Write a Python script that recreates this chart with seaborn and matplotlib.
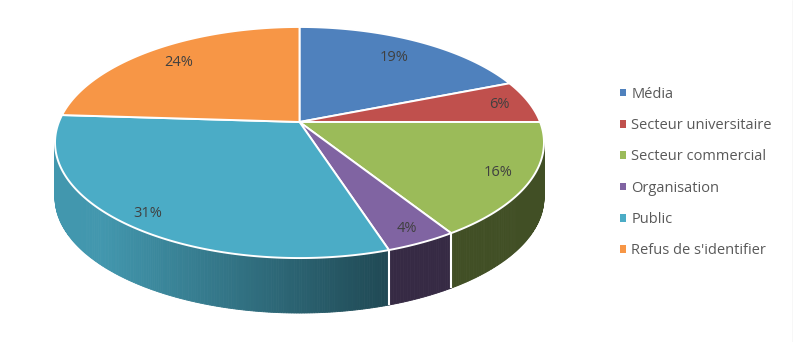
import numpy as np
import matplotlib
matplotlib.use("Agg")
import matplotlib.pyplot as plt
import seaborn as sns
from matplotlib.patches import Polygon, Patch
from matplotlib.colors import to_rgb

# ---- data ----
categories = ["Média", "Secteur universitaire", "Secteur commercial",
              "Organisation", "Public", "Refus de s'identifier"]
shares = [19, 6, 16, 4, 31, 24]
colors = ["#4F81BD", "#C0504D", "#9BBB59", "#8064A2", "#4BACC6", "#F79646"]

# ---- style ----
sns.set_theme(style="white")
plt.rcParams["font.family"] = ["Open Sans", "DejaVu Sans"]

label_r = [0.78, 0.87, 0.87, 0.90, 0.90, 0.81]   # label radius (fraction of pie radius)

W, H = 793, 342
fig = plt.figure(figsize=(W / 100, H / 100), dpi=100)
ax = fig.add_axes([0, 0, 1, 1])
ax.set_xlim(0, W)
ax.set_ylim(H, 0)
ax.axis("off")

# perspective pie geometry (pixel space)
CX, CY, A, B, K, DEPTH = 299.5, 122.0, 240.6, 111.9, 0.1775, 55.0


def proj(phi, r=1.0, drop=0.0):
    X = r * np.sin(phi)
    Z = r * np.cos(phi)
    s = 1.0 / (1.0 + K * Z)
    return CX + A * X * s, CY - B * Z * s + drop


def shade(x):
    t = np.clip((390.0 - x) / (390.0 - 100.0), 0, 1)
    return 0.42 + (0.88 - 0.42) * t


total = float(sum(shares))
bounds = np.concatenate([[0.0], np.cumsum(shares)]) / total * 2 * np.pi
phi_a = np.arccos(-K)
phi_b = 2 * np.pi - phi_a

# ---- side walls ----
for i, c in enumerate(colors):
    s, e = max(bounds[i], phi_a), min(bounds[i + 1], phi_b)
    if e <= s:
        continue
    n = max(2, int(np.degrees(e - s) / 0.5))
    ts = np.linspace(s, e, n + 1)
    base = np.array(to_rgb(c))
    for t0, t1 in zip(ts[:-1], ts[1:]):
        x0, y0 = proj(t0)
        x1, y1 = proj(t1)
        col = np.clip(base * shade(0.5 * (x0 + x1)), 0, 1)
        ax.fill([x0, x1, x1, x0], [y0, y1, y1 + DEPTH, y0 + DEPTH],
                color=col, lw=0.6, ec=col, zorder=1)

for b in bounds[1:-1]:
    if phi_a < b < phi_b:
        x0, y0 = proj(b)
        ax.plot([x0, x0], [y0, y0 + DEPTH], color="white", lw=1.5,
                zorder=2, solid_capstyle="butt")

# ---- top face ----
for i, c in enumerate(colors):
    ts = np.linspace(bounds[i], bounds[i + 1], 200)
    xs, ys = proj(ts)
    pts = np.column_stack([np.r_[CX, xs], np.r_[CY, ys]])
    ax.add_patch(Polygon(pts, closed=True, facecolor=c, edgecolor="white",
                         lw=1.4, joinstyle="round", zorder=3))

# ---- data labels ----
for i, v in enumerate(shares):
    mid = 0.5 * (bounds[i] + bounds[i + 1])
    x, y = proj(mid, r=label_r[i])
    ax.text(x, y, f"{v}%", ha="center", va="center", fontsize=10.5,
            color="#404040", zorder=5)

# ---- legend ----
handles = [Patch(facecolor=c, edgecolor="none") for c in colors]
fig.legend(handles, categories, loc="center left",
           bbox_to_anchor=(620 / W, 1 - 172.5 / H), bbox_transform=fig.transFigure,
           frameon=False, fontsize=10.5, labelcolor="#595959",
           handlelength=0.42, handleheight=0.42, handletextpad=0.35,
           labelspacing=1.12, borderpad=0, borderaxespad=0)

ax.axvline(W - 0.5, color="#d9d9d9", lw=1)

fig.savefig("out.png", dpi=100)
